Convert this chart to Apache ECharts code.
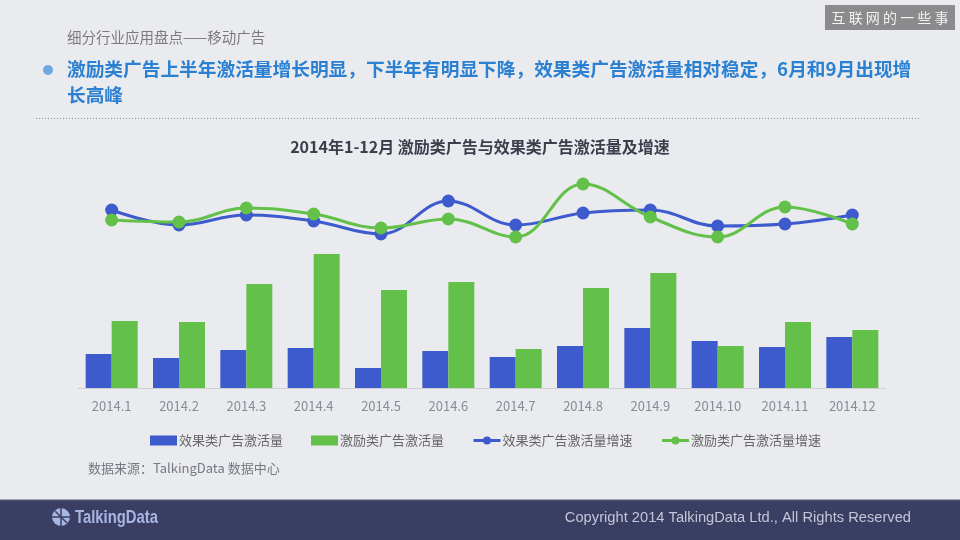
<!DOCTYPE html>
<html>
<head>
<meta charset="utf-8">
<script src="https://cdn.jsdelivr.net/npm/echarts@6/dist/echarts.min.js"></script>
<style>
html,body{margin:0;padding:0;background:#eaebef;}
#c{width:960px;height:540px;}
</style>
</head>
<body>
<div id="c"></div>
<script>
// Data (units are relative)
const months = ['2014.1','2014.2','2014.3','2014.4','2014.5','2014.6','2014.7','2014.8','2014.9','2014.10','2014.11','2014.12'];
const effectVolume = [34, 30, 38, 40, 20, 37, 31, 42, 60, 47, 41, 51];
const incentiveVolume = [67, 66, 104, 134, 98, 106, 39, 100, 115, 42, 66, 58];
const effectGrowth = [178, 163, 173, 167, 154, 187, 163, 175, 178, 162, 164, 173];
const incentiveGrowth = [168, 166, 180, 174, 160, 169, 151, 204, 171, 151, 181, 164];
const seriesNames = ['效果类广告激活量','激励类广告激活量','效果类广告激活量增速','激励类广告激活量增速'];

const BLUE = '#3d5bcc';
const GREEN = '#63c14a';
const CJK = '"Noto Sans CJK SC", "Noto Sans", sans-serif';

const chart = echarts.init(document.getElementById('c'), null, {renderer:'canvas'});
chart.setOption({
  backgroundColor: '#eaebef',
  animation: false,
  textStyle: {fontFamily: CJK},
  title: {
    text: '2014年1-12月 激励类广告与效果类广告激活量及增速',
    left: 'center', top: 134,
    textStyle: {fontSize: 16, fontWeight: 'bold', color: '#3d3e4c', fontFamily: CJK}
  },
  legend: {
    left: 145, top: 429,
    itemWidth: 27, itemHeight: 10, itemGap: 28,
    lineStyle: {width: 3},
    textStyle: {fontSize: 13, color: '#666', fontFamily: CJK, padding: [0,0,0,-3]},
    data: [
      {name: seriesNames[0], icon: 'rect'},
      {name: seriesNames[1], icon: 'rect'},
      {name: seriesNames[2]},
      {name: seriesNames[3]}
    ]
  },
  grid: {left: 78, right: 74, top: 170, bottom: 152, containLabel: false},
  xAxis: {
    type: 'category', data: months,
    axisLine: {lineStyle: {color: '#cfd0d6'}},
    axisTick: {show: false},
    axisLabel: {color: '#8a8b96', fontSize: 13, margin: 12, fontFamily: CJK}
  },
  yAxis: [
    {type: 'value', min: 0, max: 218, show: false},
    {type: 'value', min: 0, max: 218, show: false}
  ],
  series: [
    {name: seriesNames[0], type: 'bar', data: effectVolume, barWidth: 26, barGap: '0%', itemStyle: {color: BLUE}},
    {name: seriesNames[1], type: 'bar', data: incentiveVolume, barWidth: 26, barGap: '0%', itemStyle: {color: GREEN}},
    {name: seriesNames[2], type: 'line', yAxisIndex: 1, data: effectGrowth, smooth: 0.4,
      symbol: 'circle', symbolSize: 13, lineStyle: {width: 3, color: BLUE}, itemStyle: {color: BLUE}},
    {name: seriesNames[3], type: 'line', yAxisIndex: 1, data: incentiveGrowth, smooth: 0.4,
      symbol: 'circle', symbolSize: 13, lineStyle: {width: 3, color: GREEN}, itemStyle: {color: GREEN}}
  ],
  graphic: [
    {type: 'text', left: 67, top: 30, style: {text: '细分行业应用盘点——移动广告', fontSize: 14.5, fill: '#7a7a7f', fontFamily: CJK}},
    {type: 'circle', shape: {cx: 48, cy: 70, r: 5}, style: {fill: '#6ea8dd'}},
    {type: 'text', left: 67, top: 60, style: {text: '激励类广告上半年激活量增长明显，下半年有明显下降，效果类广告激活量相对稳定，6月和9月出现增', fontSize: 18.7, fontWeight: 'bold', fill: '#2b80d2', fontFamily: CJK}},
    {type: 'text', left: 67, top: 86, style: {text: '长高峰', fontSize: 18.7, fontWeight: 'bold', fill: '#2b80d2', fontFamily: CJK}},
    {type: 'line', shape: {x1: 36, y1: 118.5, x2: 921, y2: 118.5}, style: {stroke: '#8e8f99', lineWidth: 1, lineDash: [1, 2]}},
    {type: 'rect', shape: {x: 825, y: 5, width: 130, height: 25}, style: {fill: '#8b8b8d'}},
    {type: 'text', x: 890, y: 17.5, style: {text: '互 联 网 的 一 些 事', fontSize: 14, fill: '#f2f2f2', fontFamily: CJK, align: 'center', verticalAlign: 'middle'}},
    {type: 'text', left: 88, top: 462, style: {text: '数据来源：TalkingData 数据中心', fontSize: 13, fill: '#777880', fontFamily: CJK}},
    {type: 'rect', shape: {x: 0, y: 500, width: 960, height: 40}, style: {fill: '#3a3e62'}},
    {type: 'line', shape: {x1: 0, y1: 500, x2: 960, y2: 500}, style: {stroke: '#5b5d78', lineWidth: 1}},
    {type: 'circle', shape: {cx: 61, cy: 517, r: 9}, style: {fill: '#a7b6e2'}},
    {type: 'line', shape: {x1: 52, y1: 517, x2: 70, y2: 517}, style: {stroke: '#3a3e62', lineWidth: 1.5}},
    {type: 'line', shape: {x1: 61, y1: 508, x2: 61, y2: 526}, style: {stroke: '#3a3e62', lineWidth: 1.5}},
    {type: 'line', shape: {x1: 55, y1: 511, x2: 67, y2: 523}, style: {stroke: '#3a3e62', lineWidth: 1.5}},
    {type: 'text', x: 75, y: 518, scaleX: 0.78, style: {text: 'TalkingData', fontSize: 19, fontWeight: 'bold', fill: '#a7b6e2', fontFamily: '"Liberation Sans", sans-serif', verticalAlign: 'middle'}},
    {type: 'text', x: 911, y: 518, style: {text: 'Copyright 2014 TalkingData Ltd., All Rights Reserved', fontSize: 14.7, fill: '#c3c6d8', fontFamily: '"Liberation Sans", Arial, sans-serif', align: 'right', verticalAlign: 'middle'}}
  ]
});
</script>
</body>
</html>
